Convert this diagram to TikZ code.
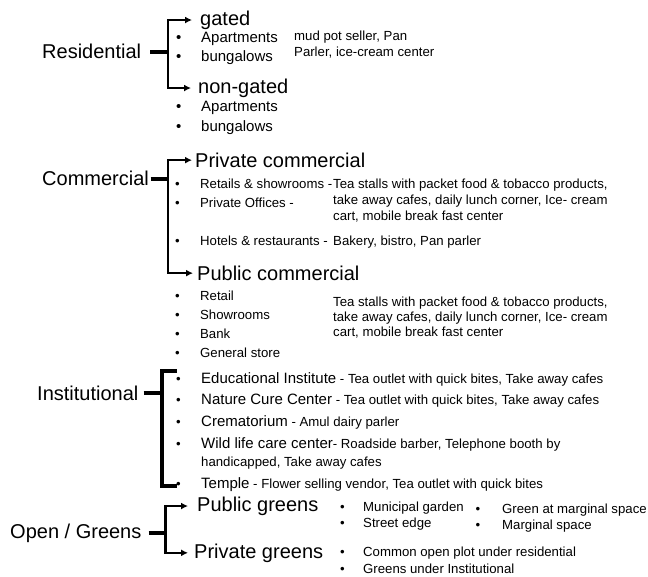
\documentclass[tikz,border=0pt]{standalone}
\usepackage{fontspec}
\setmainfont{Liberation Sans}
\usetikzlibrary{arrows.meta}
\newcommand{\headfont}{\fontsize{20}{24}\selectfont}
\newcommand{\itemfont}{\fontsize{15}{19}\selectfont}
\newcommand{\notefont}{\fontsize{13.2}{16}\selectfont}
\newcommand{\bul}[1][25pt]{\makebox[#1][l]{\textbullet}}
\tikzset{
  head/.style = {font=\headfont, anchor=base west, inner sep=0pt},
  item/.style = {font=\itemfont, anchor=base west, inner sep=0pt, align=left},
  note/.style = {font=\notefont, anchor=base west, inner sep=0pt, align=left},
  stub/.style = {line width=4.5pt},
  arm/.style = {->, line width=2.2pt},
  bracket/.style = {line width=4pt}
}

\begin{document}
\begin{tikzpicture}[x=1pt,y=-1pt,>={Latex[length=7pt,width=7pt]}]
  \useasboundingbox (0,0) rectangle (648,577);

  % Residential (list nodes sit on the baseline of their last line)
  \node[head] (res)      at (42,59)   {Residential};
  \node[head] (gated)    at (200,25.2) {gated};
  \node[head] (nongated) at (198,93.2) {non-gated};
  \node[item] (gatedl)   at (176,62)  {\bul Apartments\\\bul bungalows};
  \node[item] (nongatedl) at (176,132) {\bul Apartments\\[1pt]\bul bungalows};
  \node[note] (gatedn)   at (294,57)  {mud pot seller, Pan\\Parler, ice-cream center};
  \coordinate (rj) at ([xshift=27pt]res.east);
  \draw[stub] ([xshift=9pt]res.east) -- ([xshift=1pt]rj);
  \draw[arm,shorten >=8pt] (rj) |- (gated.west);
  \draw[arm,shorten >=7pt] (rj) |- (nongated.west);

  % Commercial
  \node[head] (com)   at (42,186)    {Commercial};
  \node[head] (privc) at (195,167.3) {Private commercial};
  \node[head] (pubc)  at (197,280.3) {Public commercial};
  \node[note] (privl) at (175,246) {\bul Retails \& showrooms -\\[3pt]\bul Private Offices -\\[22pt]\bul Hotels \& restaurants -};
  \node[note] (privn) at (333,221) {Tea stalls with packet food \& tobacco products,\\take away cafes, daily lunch corner, Ice- cream\\cart, mobile break fast center};
  \node[note] (hoteln) at (333,246) {Bakery, bistro, Pan parler};
  \node[note] (publ)  at (175,357) {\bul Retail\\[3pt]\bul Showrooms\\[3pt]\bul Bank\\[3pt]\bul General store};
  \node[note] (pubn)  at (333,337) {Tea stalls with packet food \& tobacco products,\\[-1pt]take away cafes, daily lunch corner, Ice- cream\\[-1pt]cart, mobile break fast center};
  \coordinate (cj) at ([xshift=19.3pt]com.east);
  \draw[stub] ([xshift=1.5pt]com.east) -- ([xshift=1pt]cj);
  \draw[arm,shorten >=3pt] (cj) |- (privc.west);
  \draw[arm,shorten >=4pt] (cj) |- (pubc.west);

  % Institutional
  \node[head] (inst)   at (37,400)    {Institutional};
  \node[note] (edu)    at (176,383.5) {\bul{\itemfont Educational Institute} - Tea outlet with quick bites, Take away cafes};
  \node[note] (nature) at (176,404.5) {\bul{\itemfont Nature Cure Center} - Tea outlet with quick bites, Take away cafes};
  \node[note] (crem)   at (176,426.5) {\bul{\itemfont Crematorium} - Amul dairy parler};
  \node[note] (wild)   at (176,466)   {\bul{\itemfont Wild life care center}- Roadside barber, Telephone booth by\\[1.5pt]\hspace*{25pt}handicapped, Take away cafes};
  \node[note] (temple) at (176,488.5) {\bul{\itemfont Temple} - Flower selling vendor, Tea outlet with quick bites};
  \coordinate (ij) at ([xshift=23.8pt]inst.east);
  \coordinate (itop) at (177,371);
  \coordinate (ibot) at (177,486);
  \draw[bracket] ([xshift=5pt]inst.east) -- (ij);
  \draw[bracket] (itop) -| (ij) |- (ibot);

  % Open / Greens
  \node[head] (open)   at (10,538)    {Open / Greens};
  \node[head] (pubg)   at (197,511.2) {Public greens};
  \node[head] (privg)  at (194,558)   {Private greens};
  \node[note] (pubgl)  at (340,527)   {\bul[23pt]Municipal garden\\\bul[23pt]Street edge};
  \node[note] (pubgr)  at (475.5,529) {\bul[26.5pt]Green at marginal space\\\bul[26.5pt]Marginal space};
  \node[note] (privgl) at (340,573)   {\bul[23pt]Common open plot under residential\\[1pt]\bul[23pt]Greens under Institutional};
  \coordinate (gj) at ([xshift=24pt]open.east);
  \draw[stub] ([xshift=7pt]open.east) -- ([xshift=1pt]gj);
  \draw[arm,shorten >=9pt] (gj) |- (pubg.west);
  \draw[arm,shorten >=6pt] (gj) |- (privg.west);
\end{tikzpicture}
\end{document}
